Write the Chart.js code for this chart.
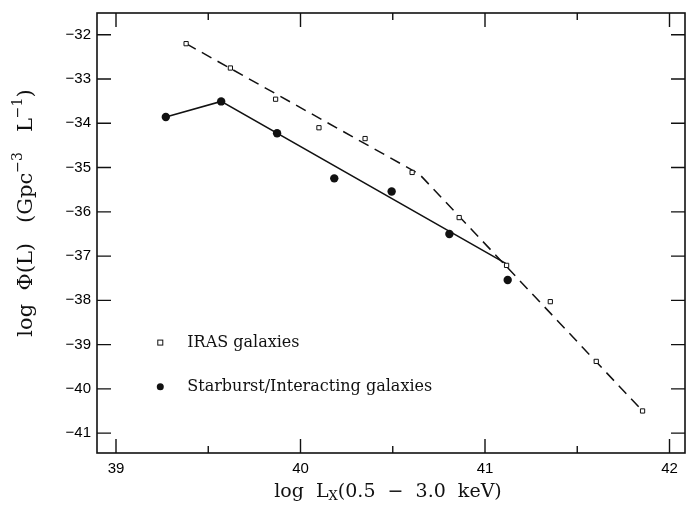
<!DOCTYPE html>
<html>
<head>
<meta charset="utf-8">
<script src="https://cdn.jsdelivr.net/npm/chart.js@4"></script>
<style>
  html, body { margin: 0; padding: 0; background: #fff; }
  #wrap { width: 686px; height: 508px; }
</style>
</head>
<body>
<div id="wrap"><canvas id="myChart" width="686" height="508"></canvas></div>
<script>
// IRAS galaxies (open squares)
var irasX = [39.38, 39.62, 39.865, 40.10, 40.35, 40.605, 40.86, 41.117, 41.354, 41.603, 41.854];
var irasY = [-32.20, -32.75, -33.455, -34.10, -34.345, -35.11, -36.13, -37.21, -38.03, -39.38, -40.50];
// Starburst / interacting galaxies (filled circles)
var sbX = [39.27, 39.57, 39.873, 40.183, 40.494, 40.807, 41.123];
var sbY = [-33.857, -33.505, -34.224, -35.244, -35.54, -36.50, -37.54];
// fitted broken lines
var irasFitX = [39.38, 40.644, 41.854];
var irasFitY = [-32.20, -35.147, -40.50];
var sbFitX = [39.27, 39.57, 41.112];
var sbFitY = [-33.857, -33.505, -37.165];

var xTicks = [39, 40, 41, 42];
var xMinorTicks = [39.5, 40.5, 41.5];
var yTicks = [-32, -33, -34, -35, -36, -37, -38, -39, -40, -41];

function toPoints(xs, ys) {
    return xs.map(function (x, i) { return { x: x, y: ys[i] }; });
}

var serif = '"DejaVu Serif", serif';

// frame, inward ticks, legend and axis titles
var framePlugin = {
    id: 'frame',
    afterDraw: function (chart) {
        var ctx = chart.ctx;
        var a = chart.chartArea;
        var xs = chart.scales.x, ys = chart.scales.y;
        ctx.save();
        ctx.strokeStyle = '#111';
        ctx.lineWidth = 1.6;
        ctx.strokeRect(a.left, a.top, a.right - a.left, a.bottom - a.top);

        ctx.lineWidth = 1.4;
        ctx.beginPath();
        xTicks.forEach(function (v) {
            var px = xs.getPixelForValue(v);
            ctx.moveTo(px, a.bottom); ctx.lineTo(px, a.bottom - 14);
            ctx.moveTo(px, a.top); ctx.lineTo(px, a.top + 14);
        });
        xMinorTicks.forEach(function (v) {
            var px = xs.getPixelForValue(v);
            ctx.moveTo(px, a.bottom); ctx.lineTo(px, a.bottom - 7);
            ctx.moveTo(px, a.top); ctx.lineTo(px, a.top + 7);
        });
        yTicks.forEach(function (v) {
            var py = ys.getPixelForValue(v);
            ctx.moveTo(a.left, py); ctx.lineTo(a.left + 14, py);
            ctx.moveTo(a.right, py); ctx.lineTo(a.right - 14, py);
        });
        ctx.stroke();

        // legend
        var lx = xs.getPixelForValue(39.24);
        var ly1 = ys.getPixelForValue(-39.0) - 2;
        var ly2 = ys.getPixelForValue(-40.0) - 2;
        ctx.lineWidth = 1;
        ctx.fillStyle = '#fff';
        ctx.fillRect(lx - 2.5, ly1 - 2.5, 5, 5);
        ctx.strokeRect(lx - 2.5, ly1 - 2.5, 5, 5);
        ctx.fillStyle = '#111';
        ctx.beginPath();
        ctx.arc(lx, ly2, 3.5, 0, Math.PI * 2);
        ctx.fill();
        ctx.font = '16px ' + serif;
        ctx.textBaseline = 'middle';
        ctx.textAlign = 'left';
        ctx.fillText('IRAS galaxies', lx + 27, ly1);
        ctx.fillText('Starburst/Interacting galaxies', lx + 27, ly2);

        // x axis title with subscript
        var big = '19px ' + serif, small = '13px ' + serif;
        var p1 = 'log  L', p2 = 'X', p3 = '(0.5  \u2212  3.0  keV)';
        ctx.font = big; var w1 = ctx.measureText(p1).width, w3 = ctx.measureText(p3).width;
        ctx.font = small; var w2 = ctx.measureText(p2).width;
        var tx = (a.left + a.right) / 2 - (w1 + w2 + w3) / 2 - 3;
        var ty = 490;
        ctx.textBaseline = 'alphabetic';
        ctx.font = big; ctx.fillText(p1, tx, ty + 7);
        ctx.font = small; ctx.fillText(p2, tx + w1, ty + 10);
        ctx.font = big; ctx.fillText(p3, tx + w1 + w2, ty + 7);

        // y axis title with superscripts
        var ybig = '21px ' + serif, ysmall = '14px ' + serif;
        var parts = [['log  \u03a6(L)   (Gpc', ybig, 0], ['\u22123', ysmall, -10], ['   L', ybig, 0], ['\u22121', ysmall, -10], [')', ybig, 0]];
        var total = 0;
        parts.forEach(function (p) { ctx.font = p[1]; p.push(ctx.measureText(p[0]).width); total += p[3]; });
        ctx.translate(32, 213);
        ctx.rotate(-Math.PI / 2);
        var cx = -total / 2;
        parts.forEach(function (p) {
            ctx.font = p[1];
            ctx.fillText(p[0], cx, p[2]);
            cx += p[3];
        });
        ctx.restore();
    }
};

var ctx1 = document.getElementById('myChart');
var myChart = new Chart(ctx1, {
    type: 'scatter',
    data: {
        datasets: [{
            label: 'IRAS galaxies',
            data: toPoints(irasX, irasY),
            pointStyle: 'rect',
            pointRadius: 3,
            borderWidth: 1,
            borderColor: '#111',
            backgroundColor: '#fff',
            order: 0
        }, {
            label: 'Starburst/Interacting galaxies',
            data: toPoints(sbX, sbY),
            pointStyle: 'circle',
            pointRadius: 4.2,
            borderWidth: 0,
            backgroundColor: '#111',
            order: 0
        }, {
            label: 'IRAS fit',
            data: toPoints(irasFitX, irasFitY),
            showLine: true,
            borderDash: [11, 7],
            borderWidth: 1.5,
            borderColor: '#111',
            pointRadius: 0,
            order: 1
        }, {
            label: 'Starburst fit',
            data: toPoints(sbFitX, sbFitY),
            showLine: true,
            borderWidth: 1.5,
            borderColor: '#111',
            pointRadius: 0,
            order: 1
        }]
    },
    options: {
        responsive: false,
        animation: false,
        devicePixelRatio: 1,
        layout: { autoPadding: false, padding: { left: 0, right: 1, top: 13, bottom: 0 } },
        plugins: {
            legend: { display: false },
            tooltip: { enabled: false }
        },
        scales: {
            x: {
                type: 'linear',
                min: 38.897,
                max: 42.084,
                grid: { display: false, drawTicks: false },
                border: { display: false },
                afterBuildTicks: function (scale) {
                    scale.ticks = xTicks.map(function (v) { return { value: v }; });
                },
                afterFit: function (scale) {
                    scale.height = 55;
                    scale.paddingLeft = 0;
                    scale.paddingRight = 0;
                },
                ticks: {
                    padding: 7,
                    maxRotation: 0,
                    color: '#000',
                    font: { family: '"Liberation Sans", Arial, sans-serif', size: 15 }
                }
            },
            y: {
                type: 'linear',
                min: -41.45,
                max: -31.507,
                grid: { display: false, drawTicks: false },
                border: { display: false },
                afterBuildTicks: function (scale) {
                    scale.ticks = yTicks.map(function (v) { return { value: v }; });
                },
                afterFit: function (scale) {
                    scale.width = 97;
                    scale.paddingTop = 0;
                    scale.paddingBottom = 0;
                },
                ticks: {
                    padding: 6,
                    color: '#000',
                    font: { family: '"Liberation Sans", Arial, sans-serif', size: 15 },
                    callback: function (v) { return '\u2212' + Math.abs(v); }
                }
            }
        }
    },
    plugins: [framePlugin]
});
</script>
</body>
</html>
